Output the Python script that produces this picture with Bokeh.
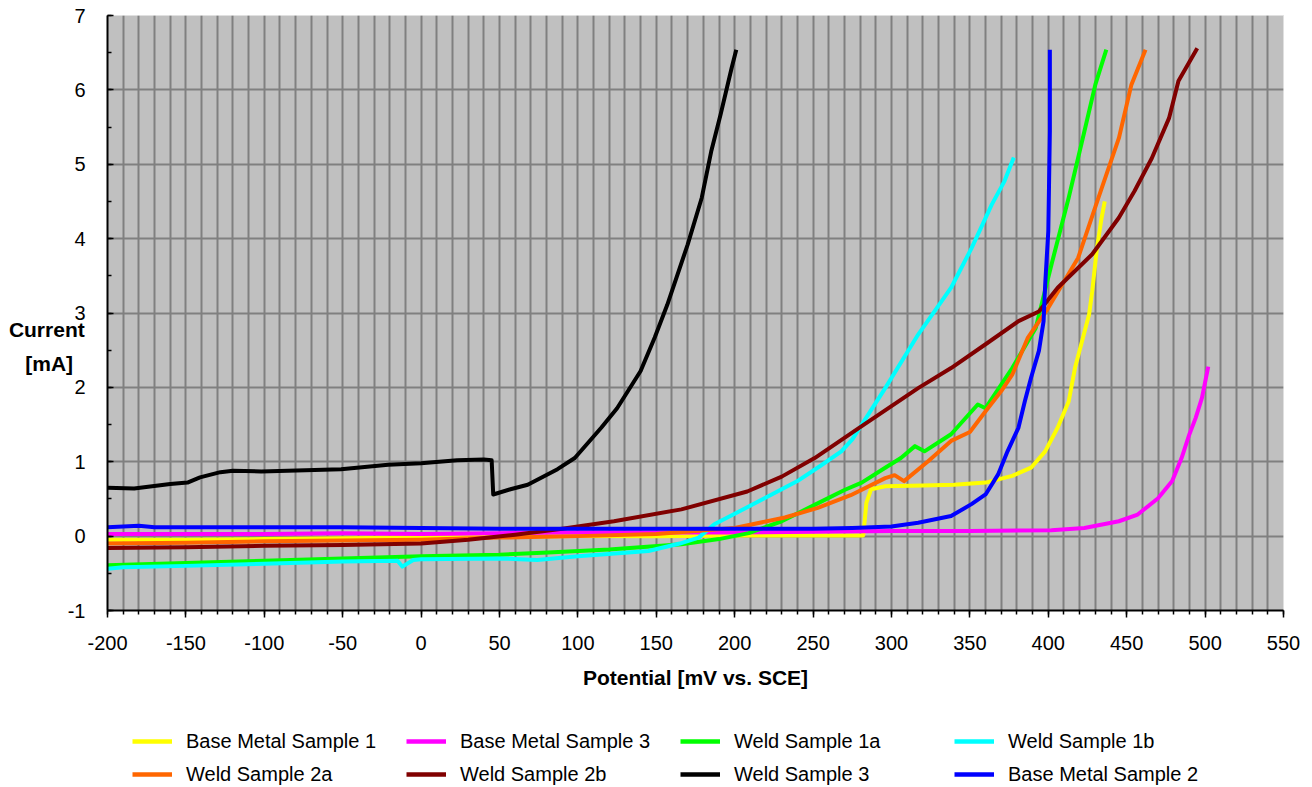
from bokeh.plotting import figure
from bokeh.layouts import column
from bokeh.models import (Range1d, SingleIntervalTicker, FixedTicker, Legend, LegendItem,
                          CustomJSTickFormatter)
from bokeh.embed import file_html
from bokeh.resources import INLINE

# ---- data ----
names = ["Base Metal Sample 1", "Base Metal Sample 3", "Weld Sample 1a", "Weld Sample 1b",
         "Weld Sample 2a", "Weld Sample 2b", "Weld Sample 3", "Base Metal Sample 2"]
colors = ["#FFFF00", "#FF00FF", "#00FF00", "#00FFFF", "#FF6600", "#800000", "#000000", "#0000FF"]

bm1_x = [-200, -150, -100, -50, 0, 50, 100, 150, 200, 250, 282, 284, 287, 296, 320, 340, 360, 377, 389, 398, 406, 413, 417, 421, 426, 428, 431, 434, 436]
bm1_y = [-0.05, -0.05, -0.04, -0.03, -0.02, -0.01, 0.0, 0.0, 0.01, 0.01, 0.01, 0.45, 0.63, 0.67, 0.68, 0.69, 0.72, 0.81, 0.92, 1.14, 1.46, 1.81, 2.26, 2.58, 2.98, 3.29, 3.87, 4.28, 4.5]

bm3_x = [-200, -150, -100, -50, 0, 50, 100, 150, 200, 250, 300, 350, 402, 423, 445, 457, 470, 479, 485, 490, 494, 498, 502]
bm3_y = [0.03, 0.03, 0.03, 0.04, 0.03, 0.04, 0.05, 0.05, 0.05, 0.06, 0.07, 0.07, 0.08, 0.11, 0.2, 0.29, 0.51, 0.74, 1.05, 1.37, 1.59, 1.86, 2.28]

w1a_x = [-200, -150, -100, -50, 0, 50, 81, 120, 166, 190, 209, 230, 251, 270, 281, 296, 306, 315, 321, 338, 355, 360, 377, 392, 402, 413, 423, 430, 437]
w1a_y = [-0.39, -0.36, -0.33, -0.3, -0.27, -0.25, -0.22, -0.18, -0.11, -0.04, 0.04, 0.2, 0.42, 0.62, 0.72, 0.92, 1.05, 1.21, 1.14, 1.37, 1.77, 1.72, 2.26, 2.8, 3.65, 4.55, 5.44, 6.07, 6.54]

w1b_x = [-200, -190, -150, -100, -50, -15, -12, -5, 0, 50, 74, 100, 145, 165, 177, 187, 200, 219, 240, 255, 268, 275, 296, 317, 332, 338, 351, 364, 372, 378]
w1b_y = [-0.44, -0.42, -0.4, -0.37, -0.34, -0.33, -0.41, -0.32, -0.31, -0.3, -0.32, -0.27, -0.2, -0.1, -0.02, 0.16, 0.3, 0.51, 0.74, 0.95, 1.14, 1.3, 1.99, 2.71, 3.16, 3.34, 3.87, 4.46, 4.77, 5.09]

w2a_x = [-200, -150, -100, -50, 0, 50, 100, 150, 200, 232, 253, 274, 296, 302, 308, 323, 338, 350, 360, 370, 377, 387, 400, 419, 432, 445, 453, 462]
w2a_y = [-0.1, -0.09, -0.07, -0.06, -0.05, -0.02, 0.0, 0.03, 0.11, 0.25, 0.38, 0.55, 0.78, 0.82, 0.74, 1.0, 1.28, 1.4, 1.68, 1.95, 2.17, 2.67, 3.07, 3.74, 4.55, 5.35, 6.07, 6.54]

w2b_x = [-200, -150, -100, -50, 0, 30, 60, 90, 123, 166, 208, 230, 251, 281, 317, 338, 360, 381, 394, 406, 428, 445, 455, 466, 477, 483, 495]
w2b_y = [-0.16, -0.15, -0.13, -0.12, -0.1, -0.05, 0.02, 0.1, 0.2, 0.36, 0.6, 0.8, 1.05, 1.48, 1.99, 2.26, 2.58, 2.89, 3.02, 3.34, 3.79, 4.28, 4.64, 5.08, 5.62, 6.12, 6.56]

w3_x = [-200, -183, -160, -149, -141, -128, -120, -102, -51, -21, 0, 23, 40, 45, 46, 57, 68, 87, 98, 115, 125, 140, 149, 157, 170, 179, 185, 191, 198, 201]
w3_y = [0.65, 0.64, 0.70, 0.72, 0.79, 0.86, 0.88, 0.87, 0.90, 0.96, 0.98, 1.02, 1.03, 1.02, 0.56, 0.63, 0.69, 0.9, 1.05, 1.46, 1.72, 2.22, 2.67, 3.11, 3.92, 4.55, 5.17, 5.67, 6.29, 6.54]

bm2_x = [-200, -180, -170, -150, -100, -50, 0, 50, 100, 150, 200, 250, 275, 300, 317, 338, 351, 360, 368, 374, 381, 385, 389, 394, 397, 398, 400, 401, 401]
bm2_y = [0.12, 0.14, 0.12, 0.12, 0.12, 0.12, 0.11, 0.1, 0.1, 0.1, 0.1, 0.1, 0.11, 0.13, 0.18, 0.27, 0.43, 0.56, 0.83, 1.14, 1.46, 1.81, 2.13, 2.49, 2.89, 3.38, 4.1, 5.44, 6.54]

series_x = [bm1_x, bm3_x, w1a_x, w1b_x, w2a_x, w2b_x, w3_x, bm2_x]
series_y = [bm1_y, bm3_y, w1a_y, w1b_y, w2a_y, w2b_y, w3_y, bm2_y]

x_title = "Potential [mV vs. SCE]"
y_title = "\n\nCurrent\n[mA]\u00a0\u00a0"

FONT = "Liberation Sans"

p = figure(width=1312, height=712, output_backend="svg", toolbar_location=None,
           x_range=Range1d(-200, 550), y_range=Range1d(-1, 7),
           min_border_left=107, min_border_right=29, min_border_top=15, min_border_bottom=102)
p.background_fill_color = "#C0C0C0"
p.border_fill_color = "white"
p.outline_line_color = "#E0E0E0"
p.outline_line_width = 1

# axes
fmt = CustomJSTickFormatter(code="return tick.toString();")
p.xaxis.ticker = SingleIntervalTicker(interval=50, num_minor_ticks=5)
p.yaxis.ticker = SingleIntervalTicker(interval=1, num_minor_ticks=2)
for ax in (p.xaxis[0], p.yaxis[0]):
    ax.formatter = fmt
    ax.axis_line_color = "black"
    ax.axis_line_width = 2
    ax.major_tick_line_color = "black"
    ax.minor_tick_line_color = "black"
    ax.major_tick_line_width = 1.5
    ax.minor_tick_line_width = 1.5
    ax.major_label_text_font = FONT
    ax.major_label_text_font_size = "20px"
    ax.major_label_text_color = "black"
    ax.axis_label_text_font = FONT
    ax.axis_label_text_font_style = "bold"
    ax.axis_label_text_color = "black"
p.xaxis.major_tick_out = 7
p.xaxis.major_tick_in = 0
p.xaxis.minor_tick_out = 4
p.xaxis.minor_tick_in = 0
p.xaxis.major_label_standoff = 18
p.xaxis.axis_label = x_title
p.xaxis.axis_label_text_font_size = "21px"
p.xaxis.axis_label_standoff = 13

p.yaxis.major_tick_in = 6
p.yaxis.major_tick_out = 0
p.yaxis.minor_tick_in = 4
p.yaxis.minor_tick_out = 0
p.yaxis.major_label_standoff = 22
p.yaxis.axis_label = y_title
p.yaxis.axis_label_text_font_size = "21px"
p.yaxis.axis_label_standoff = -20
p.yaxis.axis_label_text_line_height = 1.45
try:
    p.yaxis[0].axis_label_orientation = "horizontal"
except Exception as e:
    print("no axis_label_orientation:", e)

# grid
p.xgrid.ticker = FixedTicker(ticks=list(range(-190, 550, 10)))
p.ygrid.ticker = FixedTicker(ticks=[0, 1, 2, 3, 4, 5, 6])
p.xgrid.grid_line_color = "#808080"
p.ygrid.grid_line_color = "#808080"
p.xgrid.grid_line_width = 2
p.ygrid.grid_line_width = 2

for xs, ys, c in zip(series_x, series_y, colors):
    p.line(xs, ys, line_color=c, line_width=4, line_join="round")

# ---- legend strip below (same series, drawn off-range so only the legend shows) ----
p2 = figure(width=1312, height=75, output_backend="svg", toolbar_location=None,
            x_range=Range1d(10000, 10001), y_range=Range1d(10000, 10001),
            x_axis_type=None, y_axis_type=None,
            min_border_left=0, min_border_right=0, min_border_top=0, min_border_bottom=0)
p2.outline_line_color = None
p2.background_fill_color = "white"
p2.border_fill_color = "white"
p2.xgrid.visible = False
p2.ygrid.visible = False
proxies = [p2.line(xs, ys, line_color=c, line_width=4.5)
           for xs, ys, c in zip(series_x, series_y, colors)]
items = [LegendItem(label=n, renderers=[r]) for n, r in zip(names, proxies)]
legend = Legend(items=items, orientation="horizontal", ncols=4, location=(25, 0),
                glyph_width=40, glyph_height=26, label_standoff=14, label_width=213,
                label_height=26, spacing=7, padding=0, margin=0,
                border_line_color=None, background_fill_alpha=0,
                label_text_font=FONT, label_text_font_size="20px", label_text_color="black")
p2.add_layout(legend)

layout = column(p, p2, spacing=0)
open("out.html", "w").write(file_html(layout, INLINE))
